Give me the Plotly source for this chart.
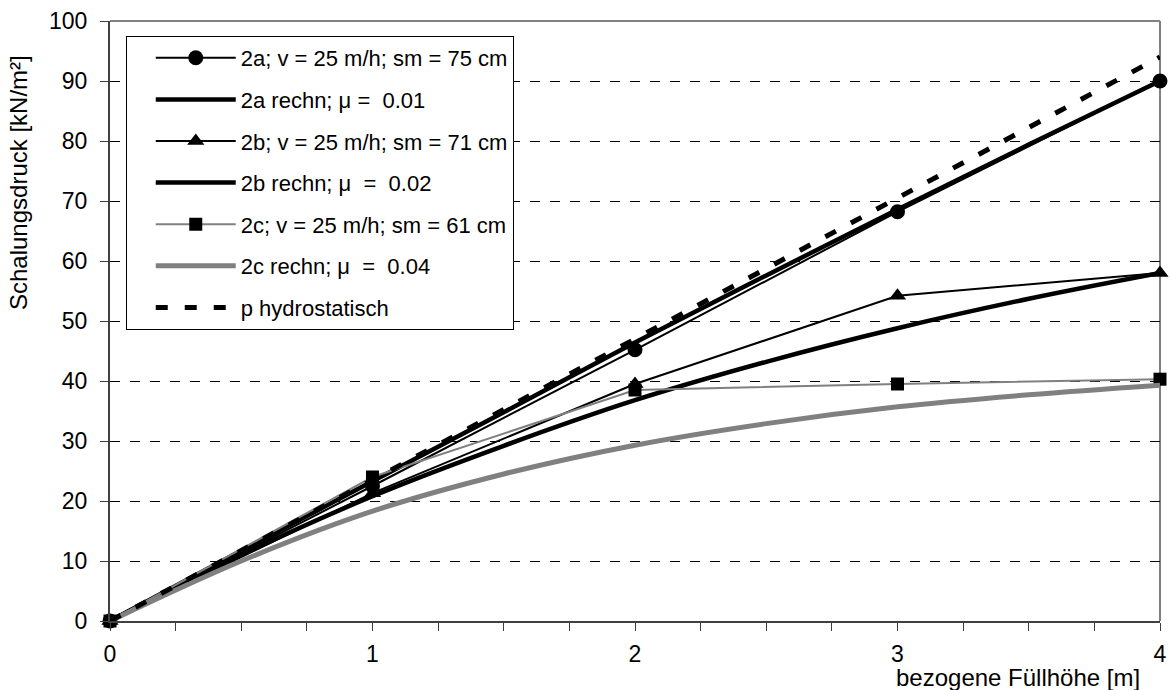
import plotly.graph_objects as go

# ---------------- data ----------------
x_meas = [0, 1, 2, 3, 4]
p_2a = [0, 22.5, 45.2, 68.2, 90.0]
p_2b = [0, 21.3, 39.5, 54.2, 58.0]
p_2c = [0, 24.0, 38.5, 39.5, 40.3]

x_calc = [0, 0.5, 1, 1.5, 2, 2.5, 3, 3.5, 4]
rechn_2a = [0, 11.7, 23.3, 34.8, 46.4, 57.6, 68.6, 79.4, 90.0]
rechn_2b = [0, 11.0, 20.8, 29.2, 36.8, 43.2, 48.8, 53.7, 58.0]
rechn_2c = [0, 10.0, 18.3, 24.5, 29.3, 32.9, 35.7, 37.7, 39.3]

x_hydro = [0, 4]
p_hydro = [0, 94.0]

names = [
    "2a; v = 25 m/h; sm = 75 cm",
    "2a rechn; μ =  0.01",
    "2b; v = 25 m/h; sm = 71 cm",
    "2b rechn; μ  =  0.02",
    "2c; v = 25 m/h; sm = 61 cm",
    "2c rechn; μ  =  0.04",
    "p hydrostatisch",
]
y_ticks = list(range(0, 101, 10))
x_ticks = [0, 1, 2, 3, 4]

FONT = "Arial, Liberation Sans, sans-serif"
GRAY = "#808080"

fig = go.Figure()

def add(x, y, name, i, **kw):
    fig.add_trace(go.Scatter(x=x, y=y, name=name, legendgroup=f"g{i}",
                             cliponaxis=False, **kw))

add(x_meas, p_2a, names[0], 0, mode="lines+markers",
    line=dict(color="black", width=2),
    marker=dict(symbol="circle", size=15, color="black"))
add(x_calc, rechn_2a, names[1], 1, mode="lines",
    line=dict(color="black", width=4.5, shape="spline"))
add(x_meas, p_2b, names[2], 2, mode="lines+markers",
    line=dict(color="black", width=2),
    marker=dict(symbol="triangle-up", size=15, color="black"))
add(x_calc, rechn_2b, names[3], 3, mode="lines",
    line=dict(color="black", width=4.5, shape="spline"))
add(x_meas, p_2c, names[4], 4, mode="lines+markers",
    line=dict(color=GRAY, width=2),
    marker=dict(symbol="square", size=13, color="black"))
add(x_calc, rechn_2c, names[5], 5, mode="lines",
    line=dict(color=GRAY, width=5, shape="spline"))
add(x_hydro, p_hydro, names[6], 6, mode="lines",
    line=dict(color="black", width=5, dash="12px,17px"))

fig.update_layout(
    width=1170, height=690,
    margin=dict(l=110, r=10, t=21, b=69, autoexpand=False),
    paper_bgcolor="white", plot_bgcolor="white",
    font=dict(family=FONT, color="black", size=22),
    showlegend=True,
    legend=dict(
        x=0.015, y=0.975, xanchor="left", yanchor="top",
        bgcolor="white", bordercolor="black", borderwidth=1,
        font=dict(family=FONT, size=22, color="black"),
        tracegroupgap=10, itemwidth=80, indentation=24,
        traceorder="grouped",
    ),
    xaxis=dict(
        range=[0, 4], tickvals=x_ticks, ticktext=[str(v) for v in x_ticks],
        showgrid=False, zeroline=False, automargin=False,
        showline=True, linecolor="#404040", linewidth=2,
        ticks="outside", ticklen=8, tickcolor="#404040", tickwidth=1,
        minor=dict(dtick=0.25, ticks="outside", ticklen=8,
                   tickcolor="#404040", tickwidth=1, showgrid=False),
        tickfont=dict(size=23), ticklabelstandoff=3,
    ),
    yaxis=dict(
        range=[0, 100], tickvals=y_ticks, ticktext=[str(v) for v in y_ticks],
        showgrid=True, gridcolor="black", gridwidth=1, griddash="10px,10px",
        zeroline=False, automargin=False,
        showline=True, linecolor="#404040", linewidth=2,
        ticks="outside", ticklen=8, tickcolor="#404040", tickwidth=1,
        tickfont=dict(size=23), ticklabelstandoff=8,
    ),
    shapes=[
        dict(type="line", xref="paper", yref="paper", x0=0, x1=1, y0=1, y1=1,
             line=dict(color=GRAY, width=2), layer="above"),
        dict(type="line", xref="paper", yref="paper", x0=1, x1=1, y0=0, y1=1,
             line=dict(color=GRAY, width=2), layer="below"),
    ],
    annotations=[
        dict(text="bezogene Füllhöhe [m]", xref="paper", yref="paper",
             x=0.983, y=-0.094, xanchor="right", yanchor="middle",
             showarrow=False, font=dict(size=24, family=FONT, color="black")),
        dict(text="Schalungsdruck [kN/m²]", xref="paper", yref="paper",
             x=-0.0876, y=0.73, xanchor="center", yanchor="middle",
             textangle=-90, showarrow=False,
             font=dict(size=24, family=FONT, color="black")),
    ],
)

fig.write_html("out.html")
